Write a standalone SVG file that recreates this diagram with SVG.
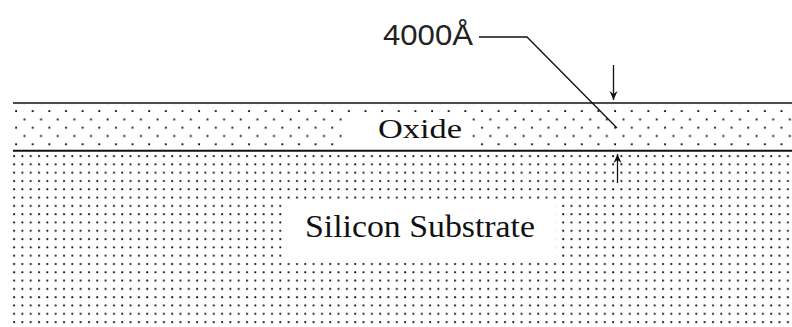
<svg xmlns="http://www.w3.org/2000/svg" width="792" height="327" viewBox="0 0 792 327">
<style>
.dot{fill:#000}
.layerline{stroke:#111;fill:none}
.lead{stroke:#111;stroke-width:1.3;fill:none}
.serif{font-family:"Liberation Serif","DejaVu Serif",serif;fill:#111}
.sans{font-family:"Liberation Sans",Arial,sans-serif;fill:#222}
</style>
<defs>
<pattern id="subDots" x="13" y="155" width="8.32" height="8.3" patternUnits="userSpaceOnUse">
<rect class="dot" x="0.2" y="0.2" width="1.8" height="1.8"/>
</pattern>
<pattern id="oxDots" x="15" y="110" width="16.64" height="16.6" patternUnits="userSpaceOnUse">
<rect class="dot" x="0.2" y="0.2" width="1.8" height="1.8"/>
<rect class="dot" x="8.52" y="8.5" width="1.8" height="1.8"/>
</pattern>
<marker id="ah" markerUnits="userSpaceOnUse" markerWidth="10" markerHeight="10" viewBox="0 0 10 10" refX="9" refY="5" orient="auto">
<path d="M0,1 L9,5 L0,9 L3,5 Z" fill="#111"/>
</marker>
</defs>
<rect width="792" height="327" fill="#fff"/>
<g id="substrate">
<rect x="13" y="152" width="779" height="175" fill="url(#subDots)"/>
<rect x="285" y="200" width="271" height="61" fill="#fff"/>
<text class="serif" x="305" y="237" font-size="32" textLength="230" lengthAdjust="spacingAndGlyphs">Silicon Substrate</text>
</g>
<g id="oxide">
<rect x="13" y="104" width="779" height="45" fill="url(#oxDots)"/>
<rect x="343" y="115" width="125" height="34" fill="#fff"/>
<line class="layerline" x1="13" y1="103" x2="792" y2="103" stroke-width="1.5"/>
<line class="layerline" x1="13" y1="150.8" x2="792" y2="150.8" stroke-width="2"/>
<text class="serif" x="378" y="138" font-size="27" textLength="84" lengthAdjust="spacingAndGlyphs">Oxide</text>
</g>
<g id="thickness-label">
<text class="sans" x="383" y="45" font-size="30" textLength="90" lengthAdjust="spacingAndGlyphs">4000Å</text>
</g>
<g id="connectors">
<polyline class="lead" points="479,37 527,37 617,128"/>
<line class="lead" x1="613.5" y1="65" x2="613.5" y2="100" marker-end="url(#ah)"/>
<line class="lead" x1="617.5" y1="183" x2="617.5" y2="154" marker-end="url(#ah)"/>
</g>
</svg>
